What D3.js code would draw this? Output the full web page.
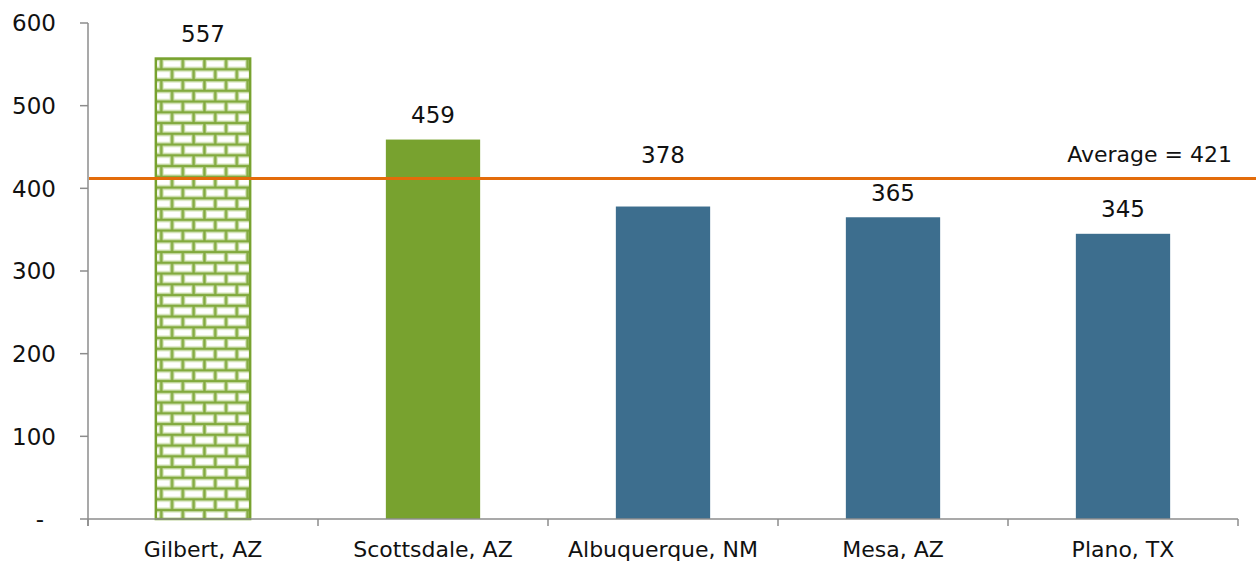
<!DOCTYPE html>
<html><head><meta charset="utf-8">
<script src="https://cdn.jsdelivr.net/npm/d3@7"></script>
<style>body{margin:0;background:#fff;overflow:hidden}svg{display:block}</style>
</head><body><svg id="c" width="1256" height="562"></svg>
<script>
const categories = ["Gilbert, AZ","Scottsdale, AZ","Albuquerque, NM","Mesa, AZ","Plano, TX"];
const values = [557, 459, 378, 365, 345];
const barStyles = ["brick","green","blue","blue","blue"];
const yTicks = [0,100,200,300,400,500,600];
const yTickLabels = ["-","100","200","300","400","500","600"];
const averageLineValue = 412;
const averageLabel = "Average = 421";

(function(){
const svg = d3.select("#c");
const W = 1256, H = 562;
const mLeft = 88, mRight = 1238, mTop = 23, mBottom = 519;
const green = "#78A22F", blue = "#3D6E8E", orange = "#E36C0A", axisCol = "#8C8C8C";
const font = "DejaVu Sans, Verdana, sans-serif";

const x = d3.scaleBand().domain(categories).range([mLeft, mRight]).paddingInner(0.59).paddingOuter(0.295);
const y = d3.scaleLinear().domain([0, 600]).range([mBottom, mTop]);

// brick pattern
const defs = svg.append("defs");
const bw = 21.6, bh = 10.75;
const pat = defs.append("pattern").attr("id","brick").attr("patternUnits","userSpaceOnUse")
  .attr("width", bw).attr("height", bh*2).attr("x", x(categories[0])).attr("y", y(values[0]));
pat.append("rect").attr("width", bw).attr("height", bh*2).attr("fill", "#fff");
const mortar = (w, c) => {
  [0, bh, bh*2].forEach(yy => pat.append("line").attr("x1",0).attr("x2",bw).attr("y1",yy).attr("y2",yy).attr("stroke",c).attr("stroke-width",w));
  pat.append("line").attr("x1",bw*0.25).attr("x2",bw*0.25).attr("y1",0).attr("y2",bh).attr("stroke",c).attr("stroke-width",w);
  pat.append("line").attr("x1",bw*0.75).attr("x2",bw*0.75).attr("y1",bh).attr("y2",bh*2).attr("stroke",c).attr("stroke-width",w);
};
mortar(5, "#D3E3B6");
mortar(2.4, "#82AA3E");

// bars
svg.append("g").selectAll("rect").data(categories).join("rect")
  .attr("x", d => x(d))
  .attr("width", x.bandwidth())
  .attr("y", (d,i) => y(values[i]))
  .attr("height", (d,i) => y(0) - y(values[i]))
  .attr("fill", (d,i) => barStyles[i] === "brick" ? "url(#brick)" : barStyles[i] === "green" ? green : blue)
  .attr("stroke", (d,i) => barStyles[i] === "brick" ? green : "none")
  .attr("stroke-width", 2.5);

// y axis
const ya = svg.append("g");
ya.append("line").attr("x1", mLeft).attr("x2", mLeft).attr("y1", y(600)).attr("y2", y(0)+7).attr("stroke", axisCol).attr("stroke-width", 1.5);
ya.selectAll("line.t").data(yTicks).join("line").attr("class","t")
  .attr("x1", mLeft-8).attr("x2", mLeft).attr("y1", d => y(d)).attr("y2", d => y(d))
  .attr("stroke", axisCol).attr("stroke-width", 1.5);
ya.selectAll("text").data(yTicks).join("text")
  .attr("x", (d,i) => i === 0 ? 40 : 56).attr("y", d => y(d)).attr("dy", "0.36em")
  .attr("text-anchor", (d,i) => i === 0 ? "middle" : "end")
  .attr("font-family", font).attr("font-size", 23).attr("fill", "#111")
  .text((d,i) => yTickLabels[i]);

// x axis
const xa = svg.append("g");
xa.append("line").attr("x1", mLeft).attr("x2", mRight).attr("y1", y(0)).attr("y2", y(0)).attr("stroke", axisCol).attr("stroke-width", 1.5);
const bounds = categories.map(c => x(c) - x.step()*x.paddingInner()/2).concat([mRight]);
xa.selectAll("line.t").data(bounds).join("line").attr("class","t")
  .attr("x1", d => d).attr("x2", d => d).attr("y1", y(0)).attr("y2", y(0)+7)
  .attr("stroke", axisCol).attr("stroke-width", 1.5);
xa.selectAll("text").data(categories).join("text")
  .attr("x", d => x(d) + x.bandwidth()/2).attr("y", 557)
  .attr("text-anchor", "middle").attr("font-family", font).attr("font-size", 22).attr("fill", "#111")
  .text(d => d);

// average line
svg.append("line").attr("x1", mLeft+1).attr("x2", W).attr("y1", y(averageLineValue)).attr("y2", y(averageLineValue))
  .attr("stroke", orange).attr("stroke-width", 3);
svg.append("text").attr("x", 1232).attr("y", y(averageLineValue) - 24).attr("dy","0.36em")
  .attr("text-anchor", "end").attr("font-family", font).attr("font-size", 22).attr("fill", "#111")
  .text(averageLabel);

// value labels
svg.append("g").selectAll("text").data(categories).join("text")
  .attr("x", d => x(d) + x.bandwidth()/2)
  .attr("y", (d,i) => y(values[i]) - (i === 2 ? 52 : 25))
  .attr("dy", "0.36em").attr("text-anchor", "middle")
  .attr("font-family", font).attr("font-size", 23).attr("fill", "#111")
  .text((d,i) => values[i]);
})();
</script></body></html>
